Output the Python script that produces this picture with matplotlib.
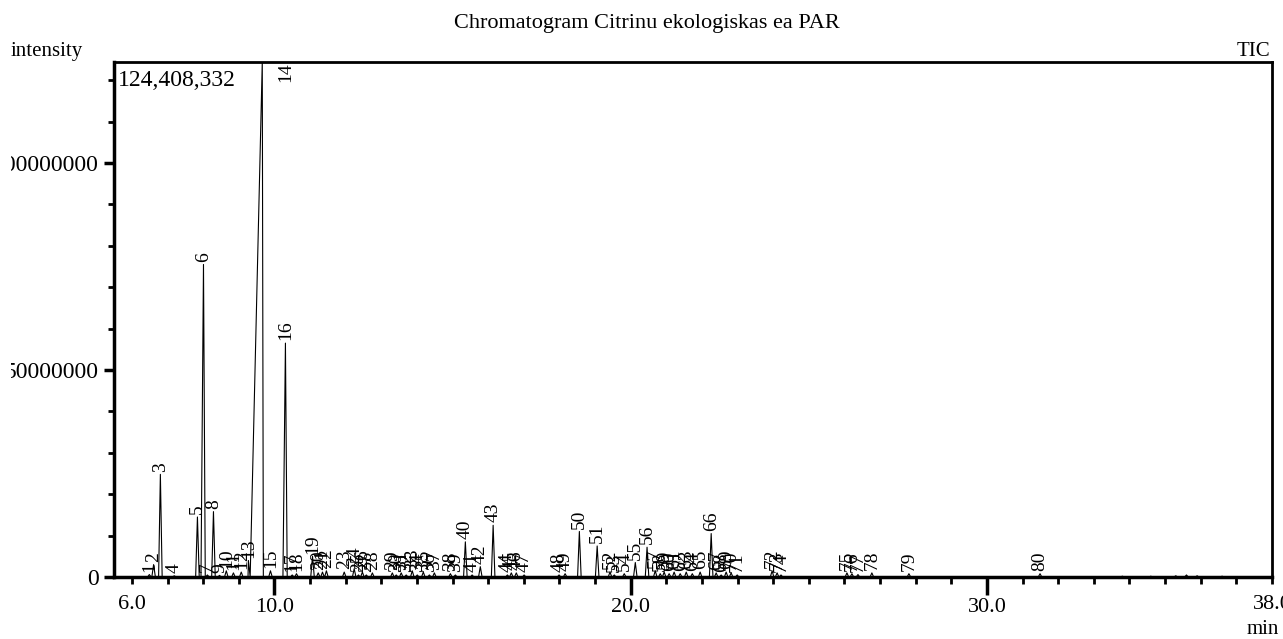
import matplotlib.pyplot as plt
import matplotlib.transforms as mtransforms
import numpy as np

# peak table (retention time in min, height in counts)
peak_no = list(range(1, 81))
rt = [6.49, 6.61, 6.80, 7.19, 7.84, 8.01, 8.12, 8.29, 8.46, 8.65,
      8.85, 9.07, 9.27, 9.66, 9.89, 10.31, 10.50, 10.62, 11.07, 11.23,
      11.35, 11.46, 11.96, 12.24, 12.36, 12.47, 12.58, 12.75, 13.31, 13.42,
      13.56, 13.70, 13.87, 14.01, 14.18, 14.35, 14.49, 14.94, 15.08, 15.36,
      15.55, 15.78, 16.14, 16.54, 16.65, 16.79, 17.01, 17.99, 18.16, 18.56,
      19.06, 19.42, 19.54, 19.82, 20.13, 20.46, 20.69, 20.83, 20.94, 21.08,
      21.22, 21.39, 21.56, 21.73, 21.95, 22.26, 22.40, 22.54, 22.68, 22.82,
      22.99, 23.97, 24.11, 24.22, 26.07, 26.21, 26.38, 26.77, 27.81, 31.49]
height_m = [0.6, 3.0, 24.8, 0.3, 14.5, 75.5, 0.5, 15.8, 0.4, 1.5,
            1.0, 1.2, 4.0, 124.408332, 1.5, 56.5, 0.5, 0.8, 5.0, 1.0,
            1.2, 1.5, 1.2, 2.0, 0.5, 1.2, 0.5, 1.0, 1.0, 0.5,
            1.0, 0.5, 1.5, 0.5, 1.2, 0.5, 1.0, 0.8, 0.5, 8.5,
            0.5, 2.5, 12.5, 0.5, 1.0, 1.0, 0.5, 0.5, 0.8, 11.0,
            7.5, 1.2, 0.5, 0.8, 3.5, 7.2, 1.5, 0.8, 1.2, 0.8,
            1.2, 0.8, 1.2, 0.8, 1.2, 10.5, 1.0, 0.5, 1.2, 1.0,
            0.5, 1.5, 1.0, 0.5, 1.0, 0.8, 0.6, 1.0, 0.8, 0.8]
# leading / trailing half widths of the peaks (min)
lead_w = [0.05] * 80
trail_w = [0.05] * 80
lead_w[13] = 0.40   # peak 14 is broad and overloaded
trail_w[13] = 0.03
lead_w[5] = 0.07
lead_w[15] = 0.07

# small unlabelled bumps at the end of the run
tail_rt = [33.8, 34.6, 35.3, 35.6, 35.9, 36.6]
tail_h_m = [0.2, 0.2, 0.3, 0.5, 0.3, 0.2]

y_max = 124408332

heights = np.array(height_m) * 1e6
pts = [(5.5, 0)]
for t, h, a, b in zip(rt, heights, lead_w, trail_w):
    pts += [(t - a, 0), (t, h), (t + b, 0)]
for t, h in zip(tail_rt, tail_h_m):
    pts += [(t - 0.05, 0), (t, h * 1e6), (t + 0.05, 0)]
pts.append((38.0, 0))
pts.sort()
tx = [p[0] for p in pts]
ty = [p[1] for p in pts]

plt.rcParams['font.family'] = ['Liberation Serif', 'DejaVu Serif']

fig = plt.figure(figsize=(12.83, 6.39), dpi=100)
ax = fig.add_axes([0.0889, 0.097, 0.9025, 0.806])
ax.plot(tx, ty, color='black', lw=0.8)
ax.set_xlim(5.5, 38.0)
ax.set_ylim(0, y_max)

# peak numbers
for n, t, h in zip(peak_no, rt, heights):
    if h >= y_max:
        ax.text(10.31, y_max, str(n), rotation=90, ha='center', va='top',
                fontsize=14)
    else:
        ax.annotate(str(n), (t, h), xytext=(0, 2), textcoords='offset points',
                    rotation=90, ha='center', va='bottom', fontsize=14)

ax.text(5.6, y_max * 0.985, '{:,}'.format(y_max), ha='left', va='top',
        fontsize=17)

# axes styling
for s in ['left', 'bottom']:
    ax.spines[s].set_linewidth(2.5)
for s in ['top', 'right']:
    ax.spines[s].set_linewidth(2)

ax.set_xticks([10, 20, 30])
ax.set_xticklabels(['10.0', '20.0', '30.0'])
ax.set_xticks(np.arange(6, 39, 1), minor=True)
ax.set_yticks([0, 50000000, 100000000])
ax.set_yticklabels(['0', '50000000', '100000000'])
ax.set_yticks(np.arange(0, y_max, 10000000), minor=True)
ax.tick_params(axis='x', which='major', length=13, width=2.5, labelsize=16, pad=2)
ax.tick_params(axis='x', which='minor', length=5, width=2)
ax.tick_params(axis='y', which='major', length=7, width=2.5, labelsize=17, pad=4)
ax.tick_params(axis='y', which='minor', length=4, width=2)

# the long y labels run off the left side of the plot area in the original
clip = mtransforms.TransformedBbox(
    mtransforms.Bbox([[11 / 1283, 0], [1, 1]]), fig.transFigure)
for lab in ax.get_yticklabels():
    lab.set_clip_on(True)
    lab.set_clip_box(clip)

trans = ax.get_xaxis_transform()
ax.text(6.0, -0.035, '6.0', transform=trans, ha='center', va='top', fontsize=16)
ax.text(38.0, -0.035, '38.0', transform=trans, ha='center', va='top', fontsize=16,
        clip_on=False)

fig.text(0.504, 0.963, 'Chromatogram Citrinu ekologiskas ea PAR', ha='center',
         va='center', fontsize=16)
fig.text(0.008, 0.92, 'intensity', ha='left', va='center', fontsize=15)
fig.text(0.99, 0.92, 'TIC', ha='right', va='center', fontsize=15)
fig.text(0.997, 0.015, 'min', ha='right', va='center', fontsize=15)

fig.savefig('out.png', dpi=100)
